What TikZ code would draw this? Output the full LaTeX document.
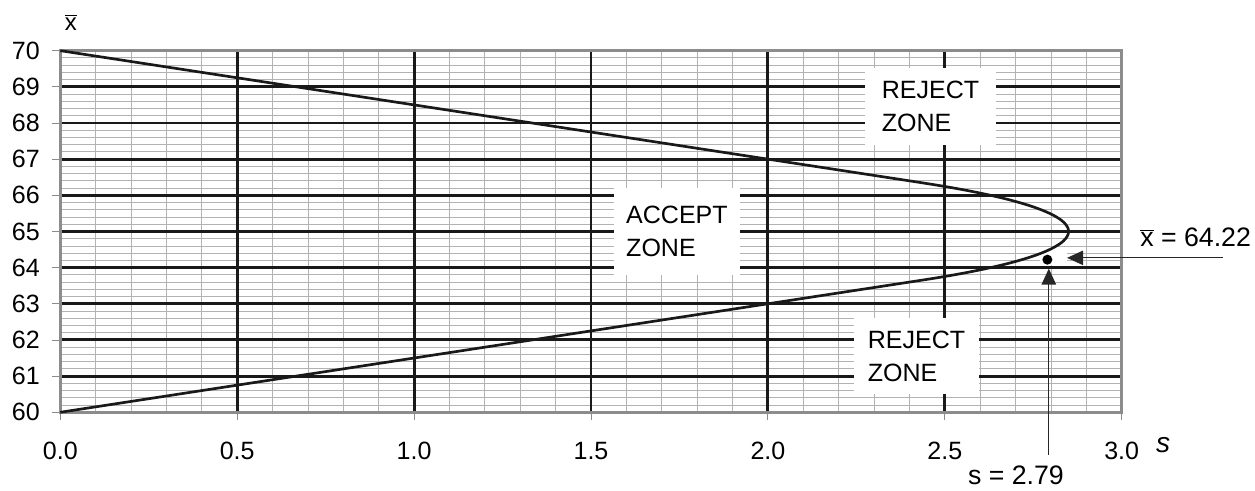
\documentclass[tikz,border=0pt]{standalone}
\usepackage{fontspec}
\setmainfont{Liberation Sans}
\usepackage{tikz}
\usetikzlibrary{arrows.meta}
\usetikzlibrary{calc}
\newcommand{\zoneFont}{\fontsize{17.8}{23.5}\selectfont}
\newcommand{\valueFont}{\fontsize{19}{22}\selectfont}
\newcommand{\axisFont}{\fontsize{20}{22}\selectfont}
\tikzset{gridMinor/.style={draw=black!30, line width=0.6pt}}
\tikzset{gridMajor/.style={draw=black!90, line width=2.1pt}}
\tikzset{plotFrame/.style={draw=black!45, line width=1.8pt}}
\tikzset{axisTick/.style={draw=black!45, line width=0.6pt}}
\tikzset{limitLine/.style={draw=black!90, line width=1.9pt, line join=round}}
\tikzset{zoneBox/.style={fill=white, align=left, inner sep=0pt, font=\zoneFont}}
\tikzset{tickLabel/.style={font=\zoneFont, inner sep=0pt}}
\tikzset{valueLabel/.style={font=\valueFont, inner sep=0pt}}
\tikzset{markArrow/.style={draw=black!85, line width=0.8pt, -{Triangle[length=0.4cm,width=0.36cm]}}}
\begin{document}
\begin{tikzpicture}[x=8.845cm, y=0.904cm]

\useasboundingbox (-0.1704,57.851) rectangle (3.3768,71.402);

\foreach \i in {1,...,29} \draw[gridMinor] (\i/10,60) -- (\i/10,70);
\foreach \i in {1,...,49} \draw[gridMinor] (0,60+\i/5) -- (3,60+\i/5);

\fill[white] (2.769,64.07) rectangle (2.845,64.49);

\foreach \k in {61,...,69} \draw[gridMajor] (0,\k) -- (3,\k);
\foreach \s in {0.5,1.0,1.5,2.0,2.5} \draw[gridMajor] (\s,60) -- (\s,70);

\draw[plotFrame] (0,60) rectangle (3,70);
\foreach \k in {60,...,70} \draw[axisTick] (0,\k) -- ++(-0.2cm,0);
\foreach \s in {0.0,0.5,1.0,1.5,2.0,2.5,3.0} \draw[axisTick] (\s,60) -- ++(0,-0.2cm);

\foreach \k in {60,...,70} \node[tickLabel, anchor=east] (y\k) at (-0.0574,\k) {\k};
\foreach \s [count=\i] in {0.0,0.5,1.0,1.5,2.0,2.5,3.0} \node[tickLabel] (x\i) at (\s,58.93) {\s};

\node[font=\fontsize{17}{18}\selectfont, inner sep=0pt] (xbarAxis) at (0.0302,70.78) {$\overline{\hbox{x}}$};
\node[font=\axisFont\itshape, inner sep=0pt] (sAxis) at (3.117,59.10) {s};

\draw[limitLine] (0,70) -- (2.4368,66.3449)
  -- plot[domain=58.76:121.24, samples=50] ({2.85*sin(\x)}, {65+2.59314*cos(\x)})
  -- (0,60);

\node[zoneBox, minimum width=3.275cm, minimum height=1.925cm] (rejectTop) at (2.4597,68.457) {REJECT\\ZONE};
\node[zoneBox, minimum width=3.15cm, minimum height=2.175cm] (accept) at (1.743,65.0) {ACCEPT\\ZONE};
\node[zoneBox, minimum width=3.125cm, minimum height=1.9cm] (rejectBottom) at (2.420,61.557) {REJECT\\ZONE};

\node[circle, fill=black, inner sep=0pt, minimum size=0.25cm] (sample) at (2.79,64.22) {};

\node[valueLabel, anchor=west] (xbarLabel) at (3.0517,64.848) {$\overline{\hbox{x}}$ = 64.22};
\node[valueLabel] (sLabel) at (2.701,58.26) {s = 2.79};

\coordinate (xbarTail) at (3.2864,64.27);
\coordinate (sTail) at (2.794,58.822);
\draw[markArrow, shorten >=0.36cm] (xbarTail) -- (xbarTail -| sample.east);
\draw[markArrow, shorten >=0.09cm] (sTail) -- (sTail |- sample.south);

\end{tikzpicture}
\end{document}
